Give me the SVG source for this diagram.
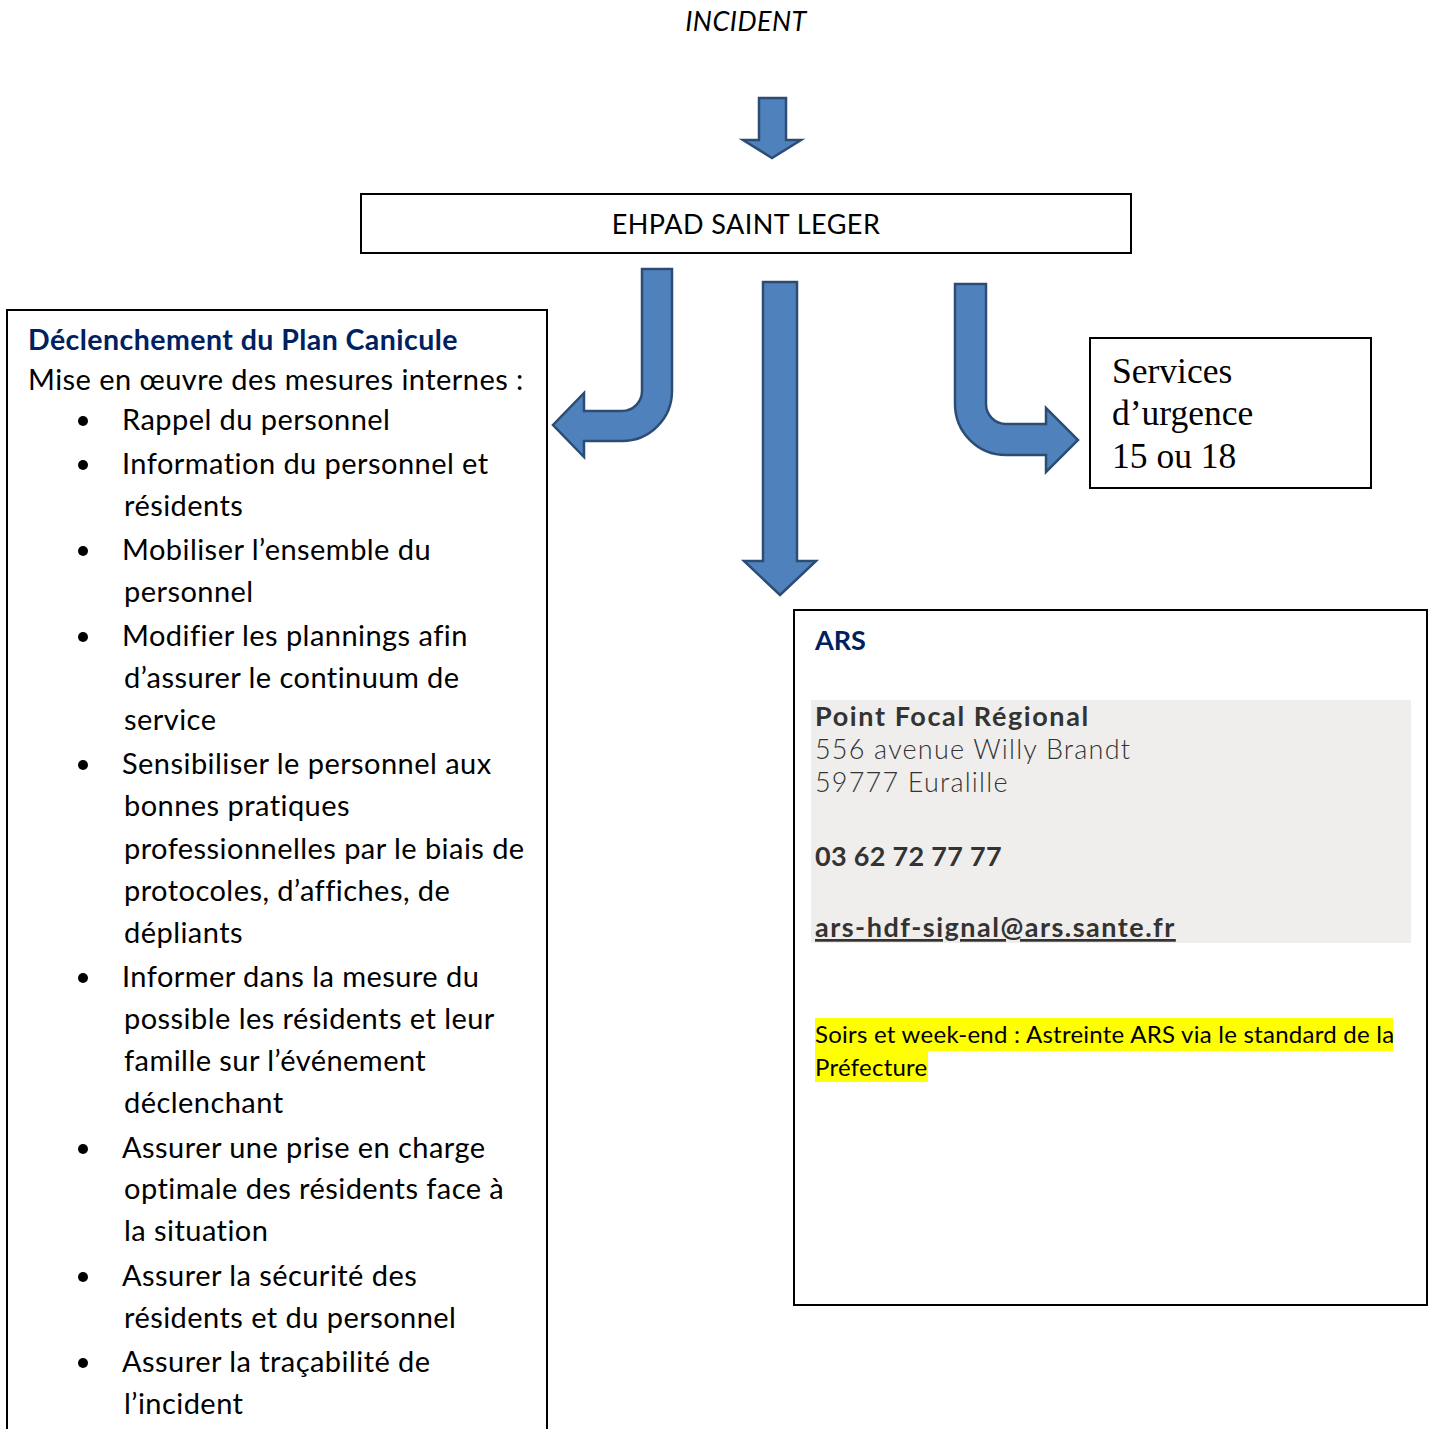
<svg xmlns="http://www.w3.org/2000/svg" width="1432" height="1429" viewBox="0 0 1432 1429">
<style>
.box{fill:#fff;stroke:#000;stroke-width:2}
.arrow{fill:#4F81BD;stroke:#2C4C74;stroke-width:2.5;stroke-linejoin:miter}
.cal{font-family:Lato,"Liberation Sans",sans-serif;font-size:29px;letter-spacing:0.45px;fill:#000}
.navy{fill:#002060;font-weight:bold}
.tnr{font-family:"Liberation Serif",serif;font-size:35.5px;fill:#000}
.ral{font-family:Lato,"Noto Sans",sans-serif;font-size:27px;fill:#333}
.hl{fill:#FFFF00}
</style>
<rect width="1432" height="1429" fill="#fff"/>
<g id="incident">
<text x="746" y="31" text-anchor="middle" class="cal" style="font-style:italic;font-size:27px">INCIDENT</text>
</g>
<g id="connectors">
<path class="arrow" d="M759,98 H786 V140 H801 L772,158 L743,140 H759 Z"/>
<path class="arrow" d="M642,269 H672 V391 A50,50 0 0 1 622,441 H584 V457 L553,425 L584,393 V411 H622 A20,20 0 0 0 642,391 Z"/>
<path class="arrow" d="M763,282 H797 V561 H816 L780,595 L744,561 H763 Z"/>
<path class="arrow" d="M955,284 H986 V404 A20,20 0 0 0 1006,424 H1046 V408 L1078,440 L1046,472 V455 H1006 A51,51 0 0 1 955,404 Z"/>
</g>
<g id="ehpad">
<rect class="box" x="361" y="194" width="770" height="59"/>
<text x="746" y="234" text-anchor="middle" class="cal" style="font-size:27px">EHPAD SAINT LEGER</text>
</g>
<g id="plan">
<rect class="box" x="7" y="310" width="540" height="1130"/>
<text x="28" y="350" class="cal navy" style="font-size:28.5px">Déclenchement du Plan Canicule</text>
<text x="28" y="390" class="cal">Mise en œuvre des mesures internes :</text>
<g fill="#000">
<circle cx="83" cy="421" r="5"/>
<circle cx="83" cy="465" r="5"/>
<circle cx="83" cy="551" r="5"/>
<circle cx="83" cy="637" r="5"/>
<circle cx="83" cy="765" r="5"/>
<circle cx="83" cy="978" r="5"/>
<circle cx="83" cy="1149" r="5"/>
<circle cx="83" cy="1277" r="5"/>
<circle cx="83" cy="1363" r="5"/>
</g>
<g class="cal">
<text x="122" y="430">Rappel du personnel</text>
<text x="122" y="474">Information du personnel et</text>
<text x="124" y="516">résidents</text>
<text x="122" y="560">Mobiliser l’ensemble du</text>
<text x="124" y="602">personnel</text>
<text x="122" y="646">Modifier les plannings afin</text>
<text x="124" y="688">d’assurer le continuum de</text>
<text x="124" y="730">service</text>
<text x="122" y="774">Sensibiliser le personnel aux</text>
<text x="124" y="816">bonnes pratiques</text>
<text x="124" y="859">professionnelles par le biais de</text>
<text x="124" y="901">protocoles, d’affiches, de</text>
<text x="124" y="943">dépliants</text>
<text x="122" y="987">Informer dans la mesure du</text>
<text x="124" y="1029">possible les résidents et leur</text>
<text x="124" y="1071">famille sur l’événement</text>
<text x="124" y="1113">déclenchant</text>
<text x="122" y="1158">Assurer une prise en charge</text>
<text x="124" y="1199">optimale des résidents face à</text>
<text x="124" y="1241">la situation</text>
<text x="122" y="1286">Assurer la sécurité des</text>
<text x="124" y="1328">résidents et du personnel</text>
<text x="122" y="1372">Assurer la traçabilité de</text>
<text x="124" y="1414">l’incident</text>
</g>
</g>
<g id="urgences">
<rect class="box" x="1090" y="338" width="281" height="150"/>
<text x="1112" y="383" class="tnr">Services</text>
<text x="1112" y="425" class="tnr">d’urgence</text>
<text x="1112" y="468" class="tnr">15 ou 18</text>
</g>
<g id="ars">
<rect class="box" x="794" y="610" width="633" height="695"/>
<text x="815" y="650" class="cal navy" style="font-size:27px;letter-spacing:0">ARS</text>
<rect x="811" y="700" width="600" height="243" fill="#EFEEEC"/>
<text x="815" y="726" class="ral" style="font-weight:bold;letter-spacing:1.6px">Point Focal Régional</text>
<text x="815" y="759" class="ral" style="font-weight:300;letter-spacing:1.2px">556 avenue Willy Brandt</text>
<text x="815" y="792" class="ral" style="font-weight:300;letter-spacing:1.2px">59777 Euralille</text>
<text x="815" y="866" class="ral" style="font-weight:bold;letter-spacing:0.3px">03 62 72 77 77</text>
<text x="815" y="937" class="ral" style="font-weight:bold;letter-spacing:1.5px;text-decoration:underline">ars-hdf-signal@ars.sante.fr</text>
<rect class="hl" x="815" y="1018" width="578" height="33"/>
<rect class="hl" x="815" y="1051" width="113" height="31"/>
<text x="815" y="1043" class="cal" style="font-size:24px;letter-spacing:0.25px">Soirs et week-end : Astreinte ARS via le standard de la</text>
<text x="815" y="1076" class="cal" style="font-size:24px;letter-spacing:0.25px">Préfecture</text>
</g>
</svg>
